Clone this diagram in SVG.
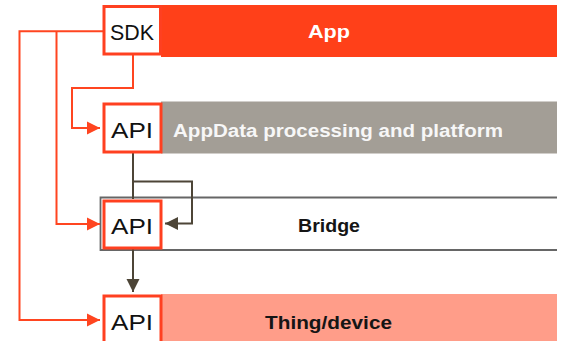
<svg xmlns="http://www.w3.org/2000/svg" width="562" height="341" viewBox="0 0 562 341">
  <style>
    .box { fill: #ffffff; stroke: #ff4020; stroke-width: 3; }
    .boxlabel { font-family: "Liberation Sans", Arial, sans-serif; font-size: 22px; fill: #111111; }
    .bandlabel { font-family: "Liberation Sans", Arial, sans-serif; font-weight: bold; font-size: 18px; }
    .red { fill: none; stroke: #ff4520; stroke-width: 2; }
    .dark { fill: none; stroke: #4d4537; stroke-width: 2; }
  </style>
  <defs>
    <marker id="arrRed" markerUnits="userSpaceOnUse" markerWidth="14" markerHeight="14" refX="13" refY="7" orient="auto">
      <path d="M0,0.5 L13,7 L0,13.5 z" fill="#ff4520"/>
    </marker>
    <marker id="arrDark" markerUnits="userSpaceOnUse" markerWidth="14" markerHeight="14" refX="13" refY="7" orient="auto">
      <path d="M0,0.5 L13,7 L0,13.5 z" fill="#4d4537"/>
    </marker>
  </defs>
  <rect width="562" height="341" fill="#ffffff"/>

  <g id="app-layer">
    <rect x="161" y="5" width="396" height="52" fill="#ff4019"/>
    <text class="bandlabel" x="308" y="38" fill="#ffffff" textLength="42" lengthAdjust="spacingAndGlyphs">App</text>
  </g>
  <g id="appdata-layer">
    <rect x="161" y="101.5" width="396" height="52" fill="#a39e96"/>
    <text class="bandlabel" x="173" y="136.5" fill="#f7f7f7" font-size="19" textLength="330" lengthAdjust="spacingAndGlyphs">AppData processing and platform</text>
  </g>
  <g id="bridge-layer">
    <path d="M557,197.5 H100.5 V250 H557" fill="none" stroke="#666666" stroke-width="1.8"/>
    <text class="bandlabel" x="298" y="232" fill="#151515" textLength="62" lengthAdjust="spacingAndGlyphs">Bridge</text>
  </g>
  <g id="thing-layer">
    <rect x="161" y="294" width="396" height="47" fill="#ff9d89"/>
    <text class="bandlabel" x="265" y="328.5" fill="#151515" font-size="19" textLength="127" lengthAdjust="spacingAndGlyphs">Thing/device</text>
  </g>

  <g id="connectors">
    <path class="red" d="M103,31.3 H19.5 V320 H100" marker-end="url(#arrRed)"/>
    <path class="red" d="M56.5,31.3 V224 H100" marker-end="url(#arrRed)"/>
    <path class="red" d="M133,55 V88 H72 V128 H100" marker-end="url(#arrRed)"/>
    <path class="dark" d="M133,153 V199"/>
    <path class="dark" d="M133,181.5 H192 V223.5 H165" marker-end="url(#arrDark)"/>
    <path class="dark" d="M133,249 V292" marker-end="url(#arrDark)"/>
  </g>

  <g id="sdk">
    <rect class="box" x="104" y="6.5" width="56.5" height="47.5"/>
    <text class="boxlabel" x="110" y="40" textLength="44" lengthAdjust="spacingAndGlyphs">SDK</text>
  </g>
  <g id="api-appdata">
    <rect class="box" x="104" y="104" width="57" height="48"/>
    <text class="boxlabel" x="111" y="137.5" textLength="42" lengthAdjust="spacingAndGlyphs">API</text>
  </g>
  <g id="api-bridge">
    <rect class="box" x="104" y="201" width="57" height="47"/>
    <text class="boxlabel" x="111" y="234" textLength="42" lengthAdjust="spacingAndGlyphs">API</text>
  </g>
  <g id="api-thing">
    <rect class="box" x="104" y="296" width="57" height="50"/>
    <text class="boxlabel" x="111" y="329.5" textLength="42" lengthAdjust="spacingAndGlyphs">API</text>
  </g>
</svg>
